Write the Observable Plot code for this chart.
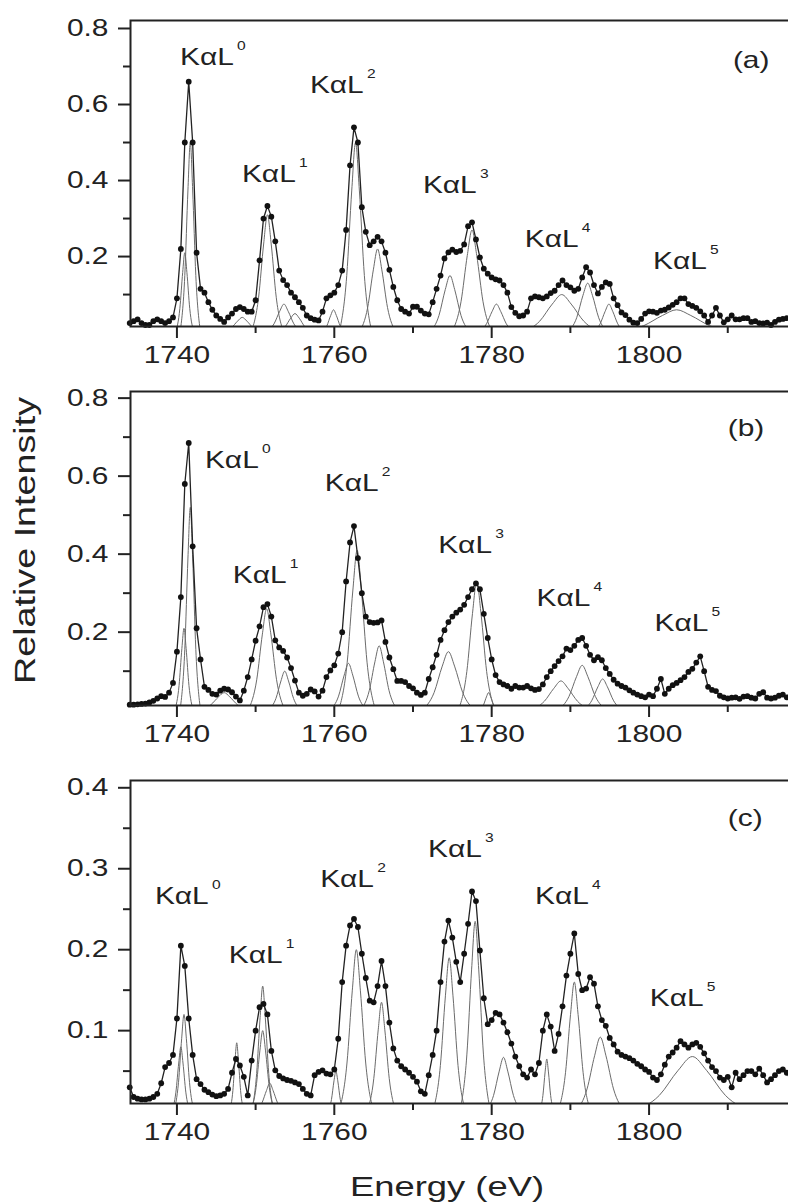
<!DOCTYPE html>
<html><head><meta charset="utf-8">
<script src="https://cdn.jsdelivr.net/npm/d3@7"></script>
<script src="https://cdn.jsdelivr.net/npm/@observablehq/plot@0.6"></script>
<style>
html,body{margin:0;padding:0;background:#fff;overflow:hidden;width:788px;height:1204px}
#chart svg{display:block}
</style></head><body><div id="chart"></div>
<script>
// ---------- data ----------
const energy = [
1734,1734.5,1735,1735.5,1736,1736.5,1737,1737.5,1738,1738.5,
1739,1739.5,1740,1740.5,1741,1741.5,1742,1742.5,1743,1743.5,
1744,1744.5,1745,1745.5,1746,1746.5,1747,1747.5,1748,1748.5,
1749,1749.5,1750,1750.5,1751,1751.5,1752,1752.5,1753,1753.5,
1754,1754.5,1755,1755.5,1756,1756.5,1757,1757.5,1758,1758.5,
1759,1759.5,1760,1760.5,1761,1761.5,1762,1762.5,1763,1763.5,
1764,1764.5,1765,1765.5,1766,1766.5,1767,1767.5,1768,1768.5,
1769,1769.5,1770,1770.5,1771,1771.5,1772,1772.5,1773,1773.5,
1774,1774.5,1775,1775.5,1776,1776.5,1777,1777.5,1778,1778.5,
1779,1779.5,1780,1780.5,1781,1781.5,1782,1782.5,1783,1783.5,
1784,1784.5,1785,1785.5,1786,1786.5,1787,1787.5,1788,1788.5,
1789,1789.5,1790,1790.5,1791,1791.5,1792,1792.5,1793,1793.5,
1794,1794.5,1795,1795.5,1796,1796.5,1797,1797.5,1798,1798.5,
1799,1799.5,1800,1800.5,1801,1801.5,1802,1802.5,1803,1803.5,
1804,1804.5,1805,1805.5,1806,1806.5,1807,1807.5,1808,1808.5,
1809,1809.5,1810,1810.5,1811,1811.5,1812,1812.5,1813,1813.5,
1814,1814.5,1815,1815.5,1816,1816.5,1817,1817.5,1818];

const intensityA = [
0.025,0.03,0.035,0.025,0.02,0.02,0.03,0.035,0.03,0.025,
0.03,0.04,0.09,0.22,0.50,0.66,0.50,0.21,0.115,0.105,
0.08,0.06,0.045,0.036,0.028,0.04,0.05,0.062,0.067,0.062,
0.055,0.055,0.085,0.19,0.30,0.333,0.305,0.24,0.163,0.138,
0.125,0.105,0.093,0.08,0.065,0.045,0.038,0.034,0.032,0.055,
0.09,0.098,0.105,0.125,0.163,0.27,0.44,0.54,0.50,0.33,
0.265,0.23,0.24,0.252,0.24,0.21,0.165,0.12,0.085,0.062,
0.055,0.05,0.068,0.068,0.058,0.05,0.048,0.08,0.115,0.15,
0.195,0.211,0.218,0.212,0.215,0.232,0.28,0.29,0.245,0.198,
0.168,0.155,0.145,0.14,0.137,0.125,0.105,0.067,0.052,0.043,
0.045,0.055,0.09,0.095,0.093,0.09,0.095,0.104,0.11,0.125,
0.137,0.125,0.119,0.11,0.115,0.145,0.172,0.158,0.125,0.103,
0.12,0.132,0.128,0.09,0.072,0.053,0.046,0.034,0.026,0.025,
0.036,0.05,0.056,0.055,0.052,0.058,0.06,0.066,0.073,0.08,
0.09,0.09,0.075,0.07,0.065,0.056,0.045,0.028,0.045,0.065,
0.045,0.027,0.035,0.045,0.035,0.035,0.038,0.038,0.028,0.03,
0.025,0.024,0.026,0.02,0.028,0.034,0.036,0.038,0.035];

const intensityB = [
0.014,0.014,0.015,0.016,0.017,0.02,0.024,0.03,0.036,0.034,
0.045,0.07,0.15,0.29,0.58,0.685,0.42,0.21,0.13,0.06,
0.052,0.042,0.04,0.05,0.055,0.053,0.046,0.035,0.025,0.05,
0.085,0.13,0.178,0.215,0.264,0.272,0.24,0.179,0.161,0.152,
0.135,0.108,0.076,0.045,0.037,0.042,0.053,0.048,0.035,0.05,
0.085,0.102,0.115,0.145,0.20,0.33,0.43,0.472,0.39,0.30,
0.24,0.226,0.224,0.225,0.23,0.175,0.135,0.105,0.075,0.075,
0.072,0.062,0.056,0.045,0.039,0.045,0.08,0.11,0.142,0.18,
0.205,0.226,0.24,0.25,0.258,0.27,0.29,0.31,0.325,0.31,
0.247,0.185,0.13,0.09,0.072,0.066,0.062,0.055,0.062,0.058,
0.058,0.062,0.056,0.052,0.054,0.066,0.085,0.1,0.113,0.126,
0.138,0.158,0.154,0.165,0.18,0.185,0.165,0.142,0.128,0.136,
0.128,0.108,0.093,0.078,0.068,0.062,0.058,0.051,0.045,0.04,
0.036,0.033,0.04,0.036,0.055,0.08,0.042,0.055,0.064,0.07,
0.077,0.085,0.098,0.106,0.122,0.138,0.10,0.06,0.052,0.049,
0.037,0.033,0.03,0.032,0.033,0.029,0.035,0.036,0.032,0.03,
0.042,0.046,0.032,0.03,0.032,0.037,0.04,0.033,0.03];

const intensityC = [
0.03,0.018,0.016,0.015,0.015,0.016,0.018,0.022,0.035,0.055,
0.06,0.07,0.115,0.205,0.18,0.115,0.07,0.04,0.034,0.027,
0.024,0.021,0.019,0.02,0.022,0.028,0.048,0.065,0.057,0.043,
0.02,0.063,0.1,0.129,0.133,0.12,0.075,0.051,0.044,0.041,
0.039,0.038,0.036,0.034,0.028,0.022,0.02,0.045,0.049,0.051,
0.047,0.046,0.052,0.09,0.16,0.205,0.23,0.238,0.228,0.195,
0.165,0.137,0.135,0.155,0.186,0.155,0.11,0.078,0.063,0.056,
0.052,0.048,0.043,0.037,0.025,0.022,0.045,0.07,0.1,0.16,
0.21,0.236,0.215,0.185,0.16,0.195,0.232,0.272,0.26,0.199,
0.14,0.108,0.113,0.122,0.12,0.11,0.098,0.084,0.068,0.056,
0.046,0.042,0.052,0.046,0.06,0.1,0.12,0.105,0.075,0.096,
0.13,0.168,0.195,0.22,0.17,0.15,0.152,0.166,0.158,0.13,
0.113,0.106,0.091,0.083,0.074,0.07,0.068,0.066,0.063,0.059,
0.056,0.052,0.049,0.042,0.039,0.046,0.058,0.068,0.073,0.079,
0.087,0.083,0.079,0.083,0.085,0.08,0.072,0.063,0.055,0.05,
0.042,0.039,0.043,0.03,0.048,0.04,0.045,0.05,0.05,0.046,
0.053,0.045,0.036,0.04,0.045,0.05,0.052,0.048,0.045];

// fitted component peaks, as [energy, intensity] points
const fitPeaksA = [
[[1739.83,0],[1740.37,.063],[1740.73,.158],[1741.0,.21],[1741.27,.158],[1741.63,.063],[1742.17,0]],
[[1740.4,0],[1741.0,.15],[1741.4,.375],[1741.7,.5],[1742.0,.375],[1742.4,.15],[1743.0,0]],
[[1745.7,0],[1746.9,.012],[1747.7,.03],[1748.3,.04],[1748.9,.03],[1749.7,.012],[1750.9,0]],
[[1749.42,0],[1750.38,.093],[1751.02,.233],[1751.5,.31],[1751.98,.233],[1752.62,.093],[1753.58,0]],
[[1751.26,0],[1752.34,.023],[1753.06,.056],[1753.6,.075],[1754.14,.056],[1754.86,.023],[1755.94,0]],
[[1752.66,0],[1753.74,.015],[1754.46,.038],[1755.0,.05],[1755.54,.038],[1756.26,.015],[1757.34,0]],
[[1758.34,0],[1759.06,.018],[1759.54,.045],[1759.9,.06],[1760.26,.045],[1760.74,.018],[1761.46,0]],
[[1760.62,0],[1761.58,.15],[1762.22,.375],[1762.7,.5],[1763.18,.375],[1763.82,.15],[1764.78,0]],
[[1763.16,0],[1764.24,.066],[1764.96,.165],[1765.5,.22],[1766.04,.165],[1766.76,.066],[1767.84,0]],
[[1772.1,0],[1773.3,.045],[1774.1,.113],[1774.7,.15],[1775.3,.113],[1776.1,.045],[1777.3,0]],
[[1774.9,0],[1776.1,.081],[1776.9,.203],[1777.5,.27],[1778.1,.203],[1778.9,.081],[1780.1,0]],
[[1778.26,0],[1779.34,.023],[1780.06,.056],[1780.6,.075],[1781.14,.056],[1781.86,.023],[1782.94,0]],
[[1783.7,0],[1786.1,.03],[1787.7,.075],[1788.9,.1],[1790.1,.075],[1791.7,.03],[1794.1,0]],
[[1789.6,0],[1790.8,.039],[1791.6,.098],[1792.2,.13],[1792.8,.098],[1793.6,.039],[1794.8,0]],
[[1792.82,0],[1793.78,.023],[1794.42,.056],[1794.9,.075],[1795.38,.056],[1796.02,.023],[1796.98,0]],
[[1795.7,0],[1799.3,.018],[1801.7,.045],[1803.5,.06],[1805.3,.045],[1807.7,.018],[1811.3,0]]];

const fitPeaksB = [
[[1739.73,0],[1740.27,.063],[1740.63,.158],[1740.9,.21],[1741.17,.158],[1741.53,.063],[1742.07,0]],
[[1740.4,0],[1741.0,.156],[1741.4,.39],[1741.7,.52],[1742.0,.39],[1742.4,.156],[1743.0,0]],
[[1742.88,0],[1744.32,.014],[1745.28,.034],[1746.0,.045],[1746.72,.034],[1747.68,.014],[1749.12,0]],
[[1749.06,0],[1750.14,.078],[1750.86,.195],[1751.4,.26],[1751.94,.195],[1752.66,.078],[1753.74,0]],
[[1751.62,0],[1752.58,.03],[1753.22,.075],[1753.7,.1],[1754.18,.075],[1754.82,.03],[1755.78,0]],
[[1759.46,0],[1760.54,.036],[1761.26,.09],[1761.8,.12],[1762.34,.09],[1763.06,.036],[1764.14,0]],
[[1760.56,0],[1761.64,.123],[1762.36,.308],[1762.9,.41],[1763.44,.308],[1764.16,.123],[1765.24,0]],
[[1763.36,0],[1764.44,.05],[1765.16,.124],[1765.7,.165],[1766.24,.124],[1766.96,.05],[1768.04,0]],
[[1771.12,0],[1772.68,.045],[1773.72,.113],[1774.5,.15],[1775.28,.113],[1776.32,.045],[1777.88,0]],
[[1775.76,0],[1776.84,.099],[1777.56,.248],[1778.1,.33],[1778.64,.248],[1779.36,.099],[1780.44,0]],
[[1778.43,0],[1778.97,.014],[1779.33,.034],[1779.6,.045],[1779.87,.034],[1780.23,.014],[1780.77,0]],
[[1784.9,0],[1786.7,.023],[1787.9,.056],[1788.8,.075],[1789.7,.056],[1790.9,.023],[1792.7,0]],
[[1788.38,0],[1789.82,.035],[1790.78,.086],[1791.5,.115],[1792.22,.086],[1793.18,.035],[1794.62,0]],
[[1791.5,0],[1792.7,.024],[1793.5,.06],[1794.1,.08],[1794.7,.06],[1795.5,.024],[1796.7,0]]];

const fitPeaksC = [
[[1739.33,0],[1739.87,.024],[1740.23,.06],[1740.5,.08],[1740.77,.06],[1741.13,.024],[1741.67,0]],
[[1739.6,0],[1740.2,.036],[1740.6,.09],[1740.9,.12],[1741.2,.09],[1741.6,.036],[1742.2,0]],
[[1746.69,0],[1747.11,.026],[1747.39,.064],[1747.6,.085],[1747.81,.064],[1748.09,.026],[1748.51,0]],
[[1749.47,0],[1750.13,.047],[1750.57,.116],[1750.9,.155],[1751.23,.116],[1751.67,.047],[1752.33,0]],
[[1749.34,0],[1750.06,.03],[1750.54,.075],[1750.9,.1],[1751.26,.075],[1751.74,.03],[1752.46,0]],
[[1749.98,0],[1750.82,.011],[1751.38,.026],[1751.8,.035],[1752.22,.026],[1752.78,.011],[1753.62,0]],
[[1759.16,0],[1759.64,.015],[1759.96,.038],[1760.2,.05],[1760.44,.038],[1760.76,.015],[1761.24,0]],
[[1760.59,0],[1761.61,.06],[1762.29,.15],[1762.8,.2],[1763.31,.15],[1763.99,.06],[1765.01,0]],
[[1764.18,0],[1765.02,.041],[1765.58,.101],[1766.0,.135],[1766.42,.101],[1766.98,.041],[1767.82,0]],
[[1772.52,0],[1773.48,.057],[1774.12,.143],[1774.6,.19],[1775.08,.143],[1775.72,.057],[1776.68,0]],
[[1775.95,0],[1776.85,.071],[1777.45,.176],[1777.9,.235],[1778.35,.176],[1778.95,.071],[1779.85,0]],
[[1779.16,0],[1780.24,.02],[1780.96,.05],[1781.5,.067],[1782.04,.05],[1782.76,.02],[1783.84,0]],
[[1786.09,0],[1786.51,.02],[1786.79,.049],[1787.0,.065],[1787.21,.049],[1787.49,.02],[1787.91,0]],
[[1788.42,0],[1789.38,.048],[1790.02,.12],[1790.5,.16],[1790.98,.12],[1791.62,.048],[1792.58,0]],
[[1790.68,0],[1792.12,.028],[1793.08,.069],[1793.8,.092],[1794.52,.069],[1795.48,.028],[1796.92,0]],
[[1797.7,0],[1801.3,.02],[1803.7,.051],[1805.5,.068],[1807.3,.051],[1809.7,.02],[1813.3,0]]];

// peak labels (KαL with superscript order) and their anchor points (energy, intensity)
const peakLabels = ["KαL","KαL","KαL","KαL","KαL","KαL"];
const peakOrders = ["0","1","2","3","4","5"];
const labelXA = [1740.4,1748.26,1756.9,1771.26,1784.2,1800.5];
const labelYA = [0.703,0.395,0.629,0.366,0.224,0.168];
const labelXB = [1743.56,1747.1,1758.8,1773.2,1785.7,1800.7];
const labelYB = [0.622,0.325,0.563,0.404,0.268,0.204];
const labelXC = [1737.2,1746.6,1758.2,1771.9,1785.5,1800.1];
const labelYC = [0.257,0.184,0.277,0.314,0.256,0.131];
const panelTags = ["(a)","(b)","(c)"];
const tagX = [1810.65,1810.0,1810.0];
const tagY = [0.695,0.704,0.353];

const xTicks = [1740,1760,1780,1800];
const xMinorTicks = [1750,1770,1790,1810];
const yTicksAB = [0.2,0.4,0.6,0.8];
const yMinorAB = [0.1,0.3,0.5,0.7];
const yTicksC = [0.1,0.2,0.3,0.4];
const yMinorC = [0.05,0.15,0.25,0.35];
const xTitle = "Energy (eV)";
const yTitle = "Relative Intensity";

// ---------- drawing ----------
const FONT = "'Liberation Sans', Arial, Helvetica, sans-serif";
const INK = "#222";
const STRETCH = 1.3;
const xDomain = [1734.1, 1818.1];

function stretchText(svg, k) {
  svg.querySelectorAll("text").forEach(t => {
    const x = +(t.getAttribute("x") || 0);
    const tr = t.getAttribute("transform") || "";
    t.setAttribute("transform", `${tr} translate(${x},0) scale(${k},1) translate(${-x},0)`);
  });
}

function panel(o) {
  const pts = energy.map((e, i) => ({e, v: o.values[i]}));
  const comps = o.peaks.flatMap((p, k) => p.map(([x, y]) => ({x, y, k})));
  const labels = peakLabels.map((t, i) => ({t, s: peakOrders[i], x: o.lx[i], y: o.ly[i]}));
  const svg = Plot.plot({
    width: 788, height: o.height,
    marginLeft: 130, marginRight: -3, marginTop: o.marginTop, marginBottom: o.marginBottom,
    x: {domain: xDomain, label: null},
    y: {domain: o.yDomain, label: null},
    style: {fontFamily: FONT, color: INK, background: "white", overflow: "hidden"},
    marks: [
      Plot.line(comps, {x: "x", y: "y", z: "k", curve: "monotone-x", stroke: "#6b6b6b", strokeWidth: 1, clip: true}),
      Plot.line(pts, {x: "e", y: "v", stroke: "#222", strokeWidth: 1.3, clip: true}),
      Plot.dot(pts, {x: "e", y: "v", r: 2.9, fill: "#111"}),
      Plot.frame({stroke: INK, strokeWidth: 2}),
      Plot.axisY({ticks: o.yTicks, tickSize: 12, tickPadding: 10, strokeWidth: 2, fontSize: 23, tickFormat: d => d.toFixed(1), label: null}),
      Plot.axisY({ticks: o.yMinor, tickSize: 7, strokeWidth: 2, tickFormat: () => "", label: null}),
      Plot.axisX({ticks: xTicks, tickSize: 12, tickPadding: 8, strokeWidth: 2, fontSize: 23, tickFormat: d => String(d), label: null}),
      Plot.axisX({ticks: xMinorTicks, tickSize: 7, strokeWidth: 2, tickFormat: () => "", label: null}),
      Plot.text(labels, {x: "x", y: "y", text: "t", textAnchor: "start", lineAnchor: "bottom", fontSize: 23, fill: INK}),
      Plot.text(labels, {x: "x", y: "y", text: "s", textAnchor: "start", lineAnchor: "bottom", fontSize: 12, dx: 57, dy: -15, fill: INK}),
      Plot.text([{t: o.tag, x: o.tx, y: o.ty}], {x: "x", y: "y", text: "t", textAnchor: "start", lineAnchor: "bottom", fontSize: 23, fill: INK}),
      ...(o.extra || [])
    ]
  });
  stretchText(svg, STRETCH);
  return svg;
}

const root = document.getElementById("chart");
root.appendChild(panel({
  values: intensityA, peaks: fitPeaksA, yDomain: [0.016, 0.821], yTicks: yTicksAB, yMinor: yMinorAB,
  lx: labelXA, ly: labelYA, tag: panelTags[0], tx: tagX[0], ty: tagY[0],
  height: 370, marginTop: 20, marginBottom: 44
}));
root.appendChild(panel({
  values: intensityB, peaks: fitPeaksB, yDomain: [0.012, 0.817], yTicks: yTicksAB, yMinor: yMinorAB,
  lx: labelXB, ly: labelYB, tag: panelTags[1], tx: tagX[1], ty: tagY[1],
  height: 380, marginTop: 21, marginBottom: 45,
  extra: [Plot.text([yTitle], {text: d => d, frameAnchor: "left", textAnchor: "middle", lineAnchor: "middle", rotate: -90, dx: -105, dy: -8, fontSize: 29, fill: INK})]
}));
root.appendChild(panel({
  values: intensityC, peaks: fitPeaksC, yDomain: [0.01, 0.409], yTicks: yTicksC, yMinor: yMinorC,
  lx: labelXC, ly: labelYC, tag: panelTags[2], tx: tagX[2], ty: tagY[2],
  height: 454, marginTop: 30, marginBottom: 101,
  extra: [Plot.text([xTitle], {text: d => d, frameAnchor: "bottom", textAnchor: "middle", lineAnchor: "bottom", dx: -14, dy: 92, fontSize: 28, fill: INK})]
}));
</script></body></html>
